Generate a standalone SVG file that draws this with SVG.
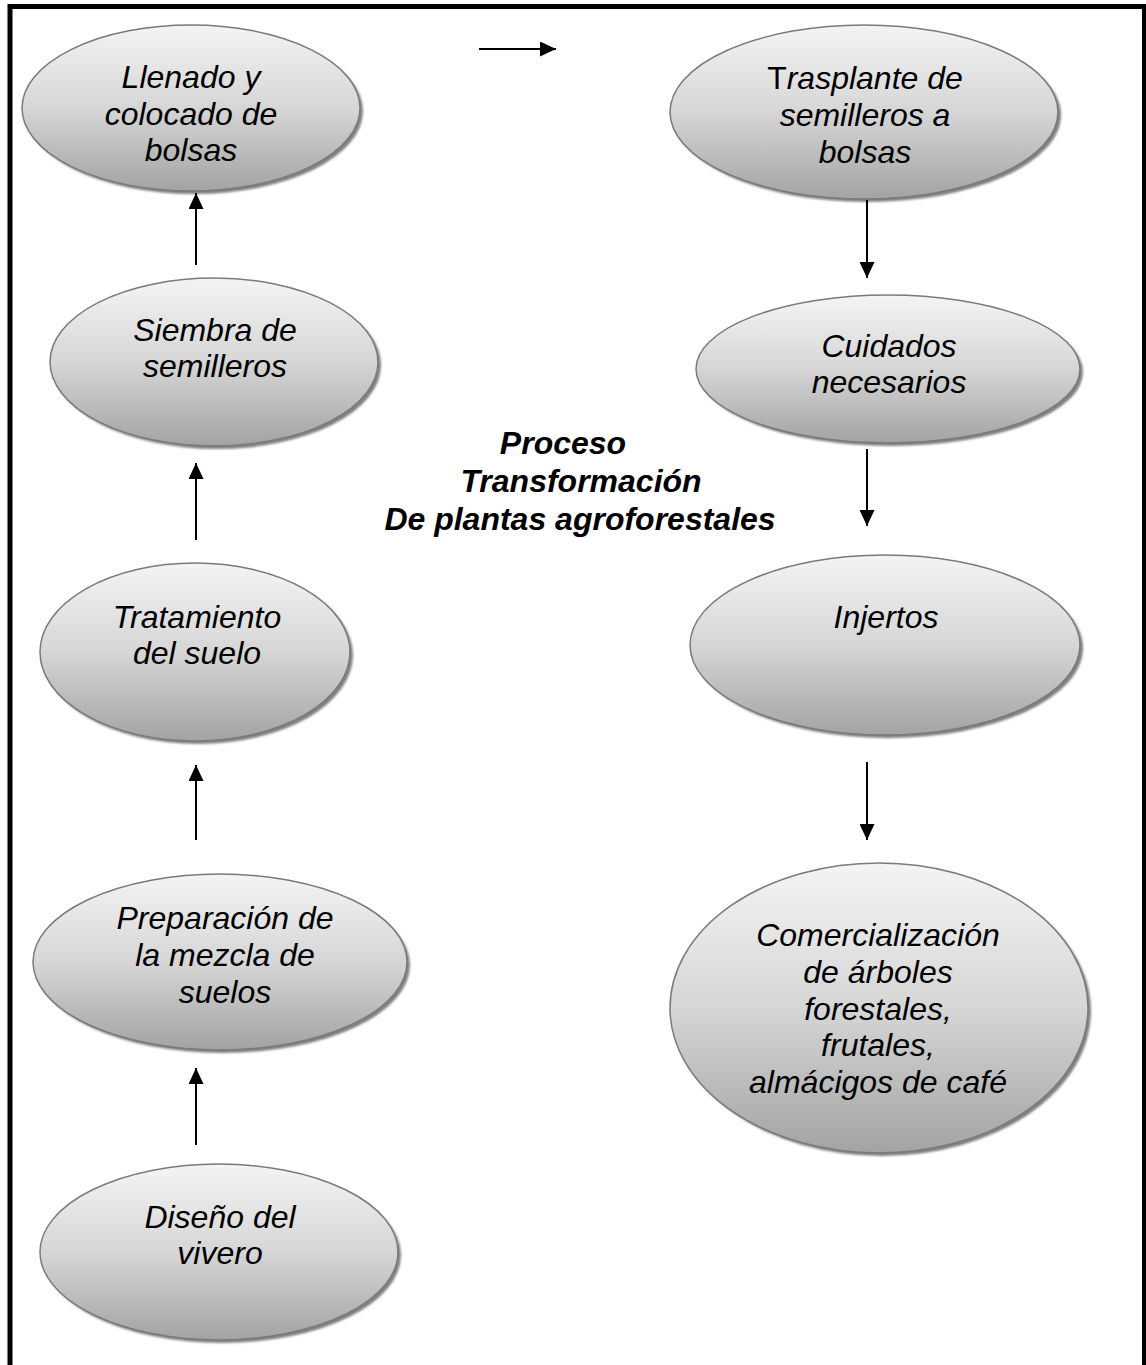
<svg xmlns="http://www.w3.org/2000/svg" width="1146" height="1365" viewBox="0 0 1146 1365">
<defs>
<style>
.node text{font-family:"Liberation Sans",Arial,sans-serif;font-size:32px;font-style:italic;fill:#000;text-anchor:middle}
.shape{fill:url(#g);stroke:#7a7a7a;stroke-width:1.5}
.shadow{fill:#808080;filter:url(#blur)}
.conn line{stroke:#000;stroke-width:2;marker-end:url(#ah)}
.title{font-family:"Liberation Sans",Arial,sans-serif;font-size:32px;font-style:italic;font-weight:bold;fill:#000;text-anchor:middle}
</style>
<linearGradient id="g" x1="0" y1="0" x2="0" y2="1">
<stop offset="0" stop-color="#f4f4f4"/>
<stop offset="0.5" stop-color="#d6d6d6"/>
<stop offset="1" stop-color="#a3a3a3"/>
</linearGradient>
<filter id="blur" x="-10%" y="-10%" width="120%" height="120%"><feGaussianBlur stdDeviation="1"/></filter>
<marker id="ah" markerUnits="userSpaceOnUse" markerWidth="16" markerHeight="15" refX="16" refY="7.5" orient="auto">
<path d="M0,0 L16,7.5 L0,15 z" fill="#000"/>
</marker>
</defs>
<rect width="1146" height="1365" fill="#fff"/>
<path id="frame" d="M10,1365 V6.5 H1144.5 V1365" fill="none" stroke="#000" stroke-width="5"/>

<g id="n-llenado" class="node">
<ellipse class="shadow" cx="194" cy="111" rx="169" ry="83"/>
<ellipse class="shape" cx="191" cy="108" rx="169" ry="83"/>
<text x="191" y="88">Llenado y</text>
<text x="191" y="125">colocado de</text>
<text x="191" y="161">bolsas</text>
</g>

<g id="n-trasplante" class="node">
<ellipse class="shadow" cx="867" cy="115" rx="194" ry="87"/>
<ellipse class="shape" cx="864" cy="112" rx="194" ry="87"/>
<text x="865" y="89"><tspan font-style="normal">T</tspan>rasplante de</text>
<text x="865" y="126">semilleros a</text>
<text x="865" y="163">bolsas</text>
</g>

<g id="n-siembra" class="node">
<ellipse class="shadow" cx="217" cy="365" rx="164" ry="84"/>
<ellipse class="shape" cx="214" cy="362" rx="164" ry="84"/>
<text x="215" y="341">Siembra de</text>
<text x="215" y="377">semilleros</text>
</g>

<g id="n-cuidados" class="node">
<ellipse class="shadow" cx="891" cy="372" rx="192" ry="74"/>
<ellipse class="shape" cx="888" cy="369" rx="192" ry="74"/>
<text x="889" y="357">Cuidados</text>
<text x="889" y="393">necesarios</text>
</g>

<g id="n-tratamiento" class="node">
<ellipse class="shadow" cx="198" cy="655" rx="155" ry="89"/>
<ellipse class="shape" cx="195" cy="652" rx="155" ry="89"/>
<text x="197" y="628">Tratamiento</text>
<text x="197" y="664">del suelo</text>
</g>

<g id="n-injertos" class="node">
<ellipse class="shadow" cx="888" cy="648" rx="195" ry="90"/>
<ellipse class="shape" cx="885" cy="645" rx="195" ry="90"/>
<text x="886" y="628">Injertos</text>
</g>

<g id="n-preparacion" class="node">
<ellipse class="shadow" cx="223" cy="965" rx="187" ry="88"/>
<ellipse class="shape" cx="220" cy="962" rx="187" ry="88"/>
<text x="225" y="929">Preparación de</text>
<text x="225" y="966">la mezcla de</text>
<text x="225" y="1003">suelos</text>
</g>

<g id="n-comercializacion" class="node">
<ellipse class="shadow" cx="882" cy="1011" rx="209" ry="145"/>
<ellipse class="shape" cx="879" cy="1008" rx="209" ry="145"/>
<text x="878" y="946">Comercialización</text>
<text x="878" y="983">de árboles</text>
<text x="878" y="1020">forestales,</text>
<text x="878" y="1056">frutales,</text>
<text x="878" y="1093">almácigos de café</text>
</g>

<g id="n-diseno" class="node">
<ellipse class="shadow" cx="222" cy="1255" rx="179" ry="88"/>
<ellipse class="shape" cx="219" cy="1252" rx="179" ry="88"/>
<text x="220" y="1228">Diseño del</text>
<text x="220" y="1264">vivero</text>
</g>

<g id="title">
<text class="title" x="563" y="454">Proceso</text>
<text class="title" x="581" y="492">Transformación</text>
<text class="title" x="580" y="530">De plantas agroforestales</text>
</g>

<g id="connectors" class="conn">
<line x1="479" y1="49" x2="556" y2="49"/>
<line x1="196" y1="265" x2="196" y2="193"/>
<line x1="196" y1="540" x2="196" y2="463"/>
<line x1="196" y1="840" x2="196" y2="765"/>
<line x1="196" y1="1145" x2="196" y2="1068"/>
<line x1="867" y1="200" x2="867" y2="278"/>
<line x1="867" y1="449" x2="867" y2="526"/>
<line x1="867" y1="762" x2="867" y2="840"/>
</g>
</svg>
